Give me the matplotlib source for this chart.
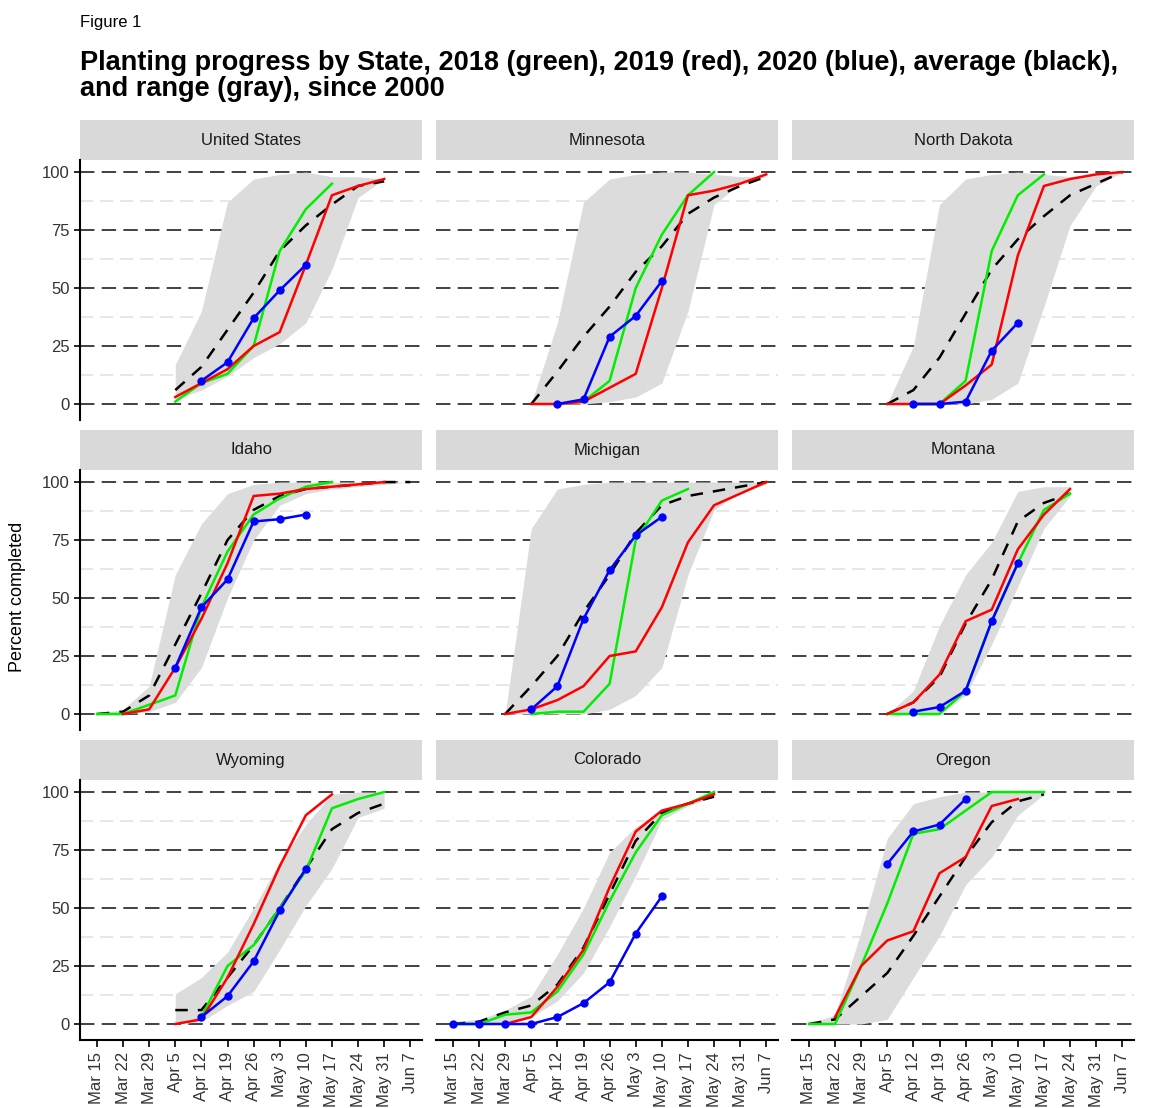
import numpy as np
import matplotlib.pyplot as plt

plt.rcParams['font.family'] = ['Liberation Sans', 'DejaVu Sans']

# Weeks: 0 = Mar 15 ... 12 = Jun 7
week_labels = ['Mar 15', 'Mar 22', 'Mar 29', 'Apr 5', 'Apr 12', 'Apr 19', 'Apr 26',
               'May 3', 'May 10', 'May 17', 'May 24', 'May 31', 'Jun 7']

states = ['United States', 'Minnesota', 'North Dakota',
          'Idaho', 'Michigan', 'Montana',
          'Wyoming', 'Colorado', 'Oregon']

# each entry: (first week index, values)
avg = {
    'United States': (3, [6, 16, 32, 48, 66, 77, 86, 94, 96]),
    'Minnesota': (3, [0, 14, 29, 42, 57, 68, 82, 89, 94, 98]),
    'North Dakota': (3, [0, 6, 20, 39, 58, 71, 81, 90, 95, 100]),
    'Idaho': (0, [0, 1, 8, 30, 52, 75, 88, 94, 97, 98, 99, 100, 100]),
    'Michigan': (2, [0, 12, 25, 44, 60, 78, 90, 94, 96, 98, 100]),
    'Montana': (3, [0, 5, 16, 39, 58, 83, 91, 95]),
    'Wyoming': (3, [6, 6, 20, 34, 50, 67, 84, 91, 95]),
    'Colorado': (0, [0, 1, 5, 8, 17, 33, 56, 79, 91, 95, 98]),
    'Oregon': (0, [0, 2, 12, 22, 38, 55, 72, 87, 96, 99]),
}
y2018 = {
    'United States': (3, [1, 9, 13, 25, 66, 84, 95]),
    'Minnesota': (4, [0, 1, 10, 50, 73, 90, 100]),
    'North Dakota': (4, [0, 0, 10, 66, 90, 99]),
    'Idaho': (0, [0, 0, 4, 8, 46, 70, 86, 93, 98, 100]),
    'Michigan': (3, [0, 1, 1, 13, 75, 92, 97]),
    'Montana': (3, [0, 0, 0, 10, 40, 65, 88, 95]),
    'Wyoming': (4, [3, 25, 34, 50, 66, 93, 97, 100]),
    'Colorado': (0, [0, 0, 4, 5, 14, 30, 53, 74, 90, 95, 100]),
    'Oregon': (0, [0, 0, 25, 52, 82, 84, 92, 100, 100, 100]),
}
y2019 = {
    'United States': (3, [3, 9, 15, 25, 31, 60, 90, 94, 97]),
    'Minnesota': (3, [0, 0, 1, 7, 13, 50, 90, 92, 95, 99]),
    'North Dakota': (3, [0, 0, 0, 8, 17, 64, 94, 97, 99, 100]),
    'Idaho': (1, [0, 2, 20, 41, 65, 94, 95, 97, 98, 99, 100]),
    'Michigan': (2, [0, 2, 6, 12, 25, 27, 46, 74, 90, 95, 100]),
    'Montana': (3, [0, 5, 17, 40, 45, 71, 86, 97]),
    'Wyoming': (3, [0, 2, 20, 43, 68, 90, 99]),
    'Colorado': (2, [0, 3, 16, 32, 59, 83, 92, 95, 99]),
    'Oregon': (1, [3, 25, 36, 40, 65, 72, 94, 97]),
}
y2020 = {
    'United States': (4, [10, 18, 37, 49, 60]),
    'Minnesota': (4, [0, 2, 29, 38, 53]),
    'North Dakota': (4, [0, 0, 1, 23, 35]),
    'Idaho': (3, [20, 46, 58, 83, 84, 86]),
    'Michigan': (3, [2, 12, 41, 62, 77, 85]),
    'Montana': (4, [1, 3, 10, 40, 65]),
    'Wyoming': (4, [3, 12, 27, 49, 67]),
    'Colorado': (0, [0, 0, 0, 0, 3, 9, 18, 39, 55]),
    'Oregon': (3, [69, 83, 86, 97]),
}
rng_low = {
    'United States': (3, [2, 6, 12, 20, 26, 35, 58, 89, 97]),
    'Minnesota': (3, [0, 0, 0, 1, 3, 9, 40, 86, 95, 98]),
    'North Dakota': (3, [0, 0, 0, 0, 2, 9, 42, 77, 94, 100]),
    'Idaho': (0, [0, 0, 1, 5, 20, 50, 75, 90, 95, 97, 98, 99, 100]),
    'Michigan': (2, [0, 0, 0, 0, 2, 8, 20, 60, 88, 96, 99]),
    'Montana': (3, [0, 0, 0, 8, 30, 55, 80, 94]),
    'Wyoming': (3, [0, 1, 8, 14, 32, 51, 67, 89, 93]),
    'Colorado': (0, [0, 0, 1, 3, 10, 22, 42, 64, 88, 94, 98]),
    'Oregon': (0, [0, 0, 0, 2, 20, 38, 60, 72, 90, 99]),
}
rng_high = {
    'United States': (3, [17, 40, 87, 97, 99, 100, 98, 98, 97]),
    'Minnesota': (3, [0, 35, 87, 97, 99, 100, 100, 99, 98, 98]),
    'North Dakota': (3, [0, 25, 86, 97, 99, 100, 99, 98, 99, 100]),
    'Idaho': (0, [0, 2, 12, 60, 82, 95, 99, 100, 100, 100, 100, 100, 100]),
    'Michigan': (2, [0, 80, 97, 99, 100, 100, 100, 100, 100, 100, 100]),
    'Montana': (3, [0, 10, 38, 60, 74, 96, 98, 98]),
    'Wyoming': (3, [13, 20, 31, 50, 70, 86, 99, 100, 100]),
    'Colorado': (0, [1, 2, 6, 12, 30, 50, 74, 85, 92, 96, 99]),
    'Oregon': (0, [0, 4, 40, 80, 95, 98, 100, 100, 100, 100]),
}


def xy(d, s):
    start, vals = d[s]
    return np.arange(start, start + len(vals)), np.array(vals)


W, H = 1149, 1108
fig = plt.figure(figsize=(W / 100, H / 100), dpi=100)

fig.text(80 / W, 1 - 22 / H, 'Figure 1', fontsize=12, va='center', ha='left')
fig.text(80 / W, 1 - 76 / H,
         'Planting progress by State, 2018 (green), 2019 (red), 2020 (blue), average (black),\nand range (gray), since 2000',
         fontsize=19.5, fontweight='bold', va='center', ha='left', linespacing=1.0)
fig.text(18 / W, 1 - 597 / H, 'Percent completed', rotation=90, fontsize=13,
         va='center', ha='center')

col_left = [80, 436, 792]
pw = 342
row_top = [120, 430, 740]
strip_h = 40
ph = 260

for i, s in enumerate(states):
    r, c = divmod(i, 3)
    x0 = col_left[c]
    st = fig.add_axes([x0 / W, 1 - (row_top[r] + strip_h) / H, pw / W, strip_h / H])
    st.set_facecolor('#d9d9d9')
    st.set_xticks([]); st.set_yticks([])
    for sp in st.spines.values():
        sp.set_visible(False)
    st.text(0.5, 0.5, s, ha='center', va='center', fontsize=12, color='#1a1a1a',
            transform=st.transAxes)

    ax = fig.add_axes([x0 / W, 1 - (row_top[r] + strip_h + ph) / H, pw / W, ph / H])
    ax.set_xlim(-0.65, 12.45)
    ax.set_ylim(-6.9, 105.2)
    for y in [12.5, 37.5, 62.5, 87.5]:
        ax.axhline(y, color='#e3e3e3', lw=1.2, dashes=(8, 4), zorder=0)
    for y in [0, 25, 50, 75, 100]:
        ax.axhline(y, color='#333333', lw=1.3, dashes=(8, 4), zorder=0.5)

    xl, lo = xy(rng_low, s)
    xh, hi = xy(rng_high, s)
    ax.fill_between(xl, lo, hi, color='#dcdcdc', lw=0, zorder=1)
    xa, ya = xy(avg, s)
    ax.plot(xa, ya, color='black', lw=1.8, dashes=(5, 4), zorder=3)
    xg, yg = xy(y2018, s)
    ax.plot(xg, yg, color='#00ee00', lw=1.8, zorder=4)
    xr, yr = xy(y2019, s)
    ax.plot(xr, yr, color='#ff0000', lw=1.8, zorder=5)
    xb, yb = xy(y2020, s)
    ax.plot(xb, yb, color='#0000ff', lw=1.8, marker='o', ms=5, zorder=6)

    for sp in ['top', 'right']:
        ax.spines[sp].set_visible(False)
    ax.spines['left'].set_visible(c == 0)
    ax.spines['bottom'].set_visible(r == 2)
    ax.spines['left'].set_linewidth(1.5)
    ax.spines['bottom'].set_linewidth(1.5)
    ax.set_yticks([0, 25, 50, 75, 100])
    ax.set_xticks(range(13))
    if c == 0:
        ax.tick_params(axis='y', labelsize=12, labelcolor='#333333', length=4, width=1.2)
    else:
        ax.tick_params(axis='y', left=False, labelleft=False)
    if r == 2:
        ax.set_xticklabels(week_labels, rotation=90, fontsize=12, color='#333333')
        ax.tick_params(axis='x', length=5, width=1.2)
    else:
        ax.tick_params(axis='x', bottom=False, labelbottom=False)

fig.savefig('out.png', dpi=100)
